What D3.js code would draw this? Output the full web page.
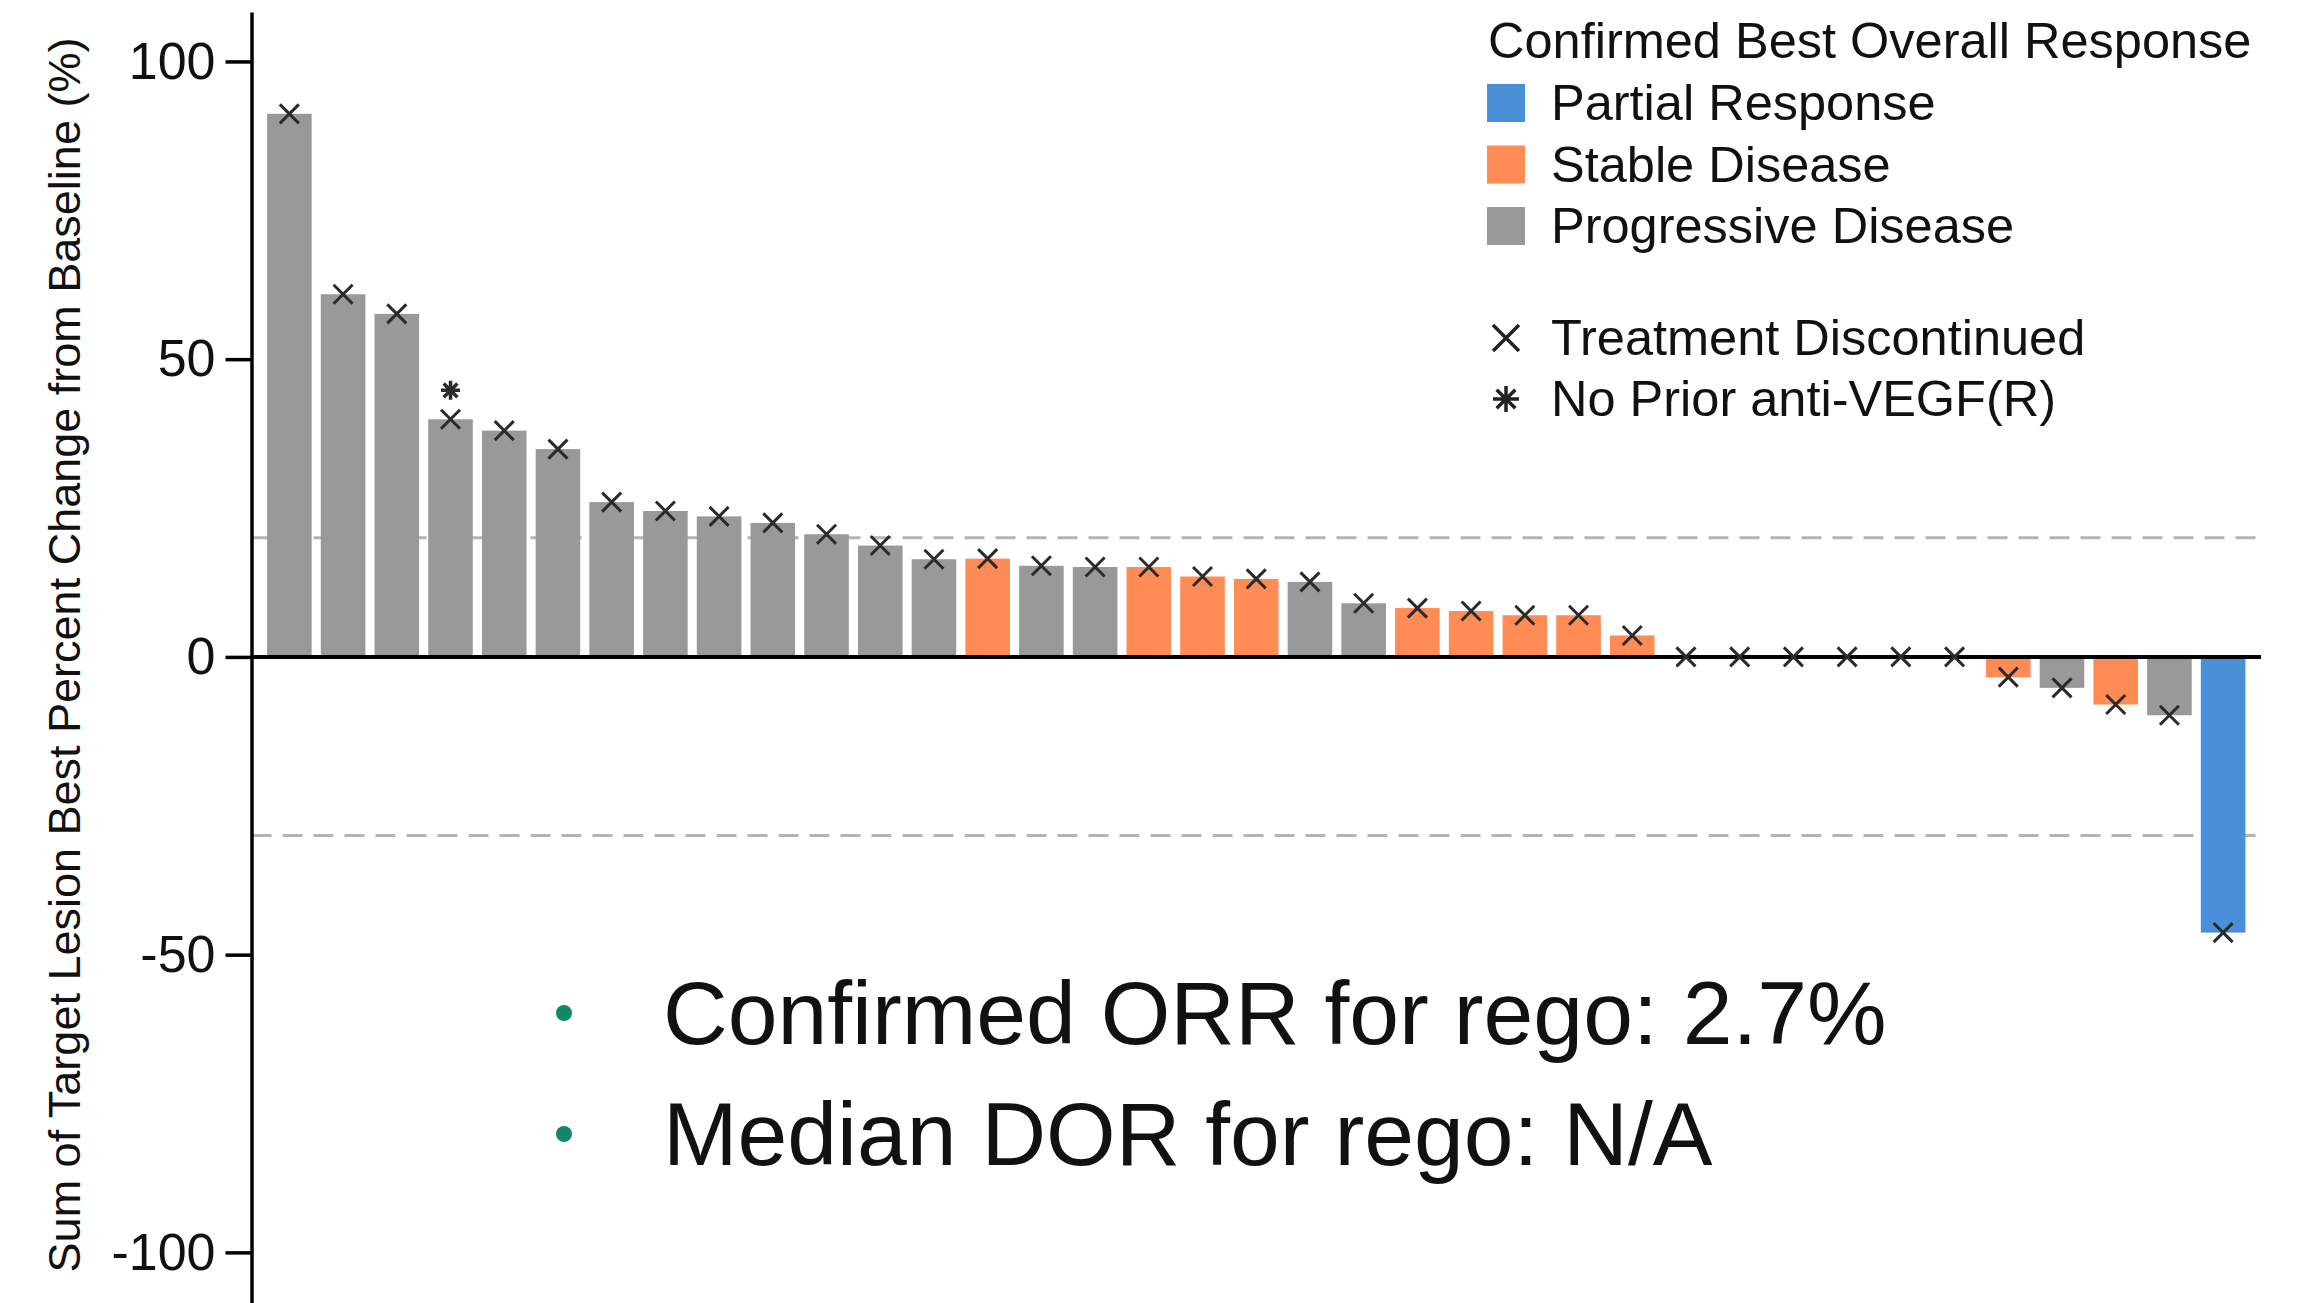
<!DOCTYPE html>
<html>
<head>
<meta charset="utf-8">
<script src="https://cdn.jsdelivr.net/npm/d3@7"></script>
<style>
  body { margin: 0; background: #fff; }
  svg { display: block; }
  text { font-family: "Liberation Sans", Arial, Helvetica, sans-serif; fill: #111; }
</style>
</head>
<body>
<svg id="chart" width="2320" height="1303"></svg>
<script>
// Waterfall of best percent change in target lesion sum, one bar per patient
const patients = ["P01","P02","P03","P04","P05","P06","P07","P08","P09","P10",
                  "P11","P12","P13","P14","P15","P16","P17","P18","P19","P20",
                  "P21","P22","P23","P24","P25","P26","P27","P28","P29","P30",
                  "P31","P32","P33","P34","P35","P36","P37"];
const bestChange = [91.2, 60.9, 57.6, 39.9, 38.0, 34.9, 26.0, 24.5, 23.6, 22.5,
                    20.6, 18.7, 16.4, 16.5, 15.3, 15.1, 15.1, 13.5, 13.1, 12.6,
                    9.0, 8.2, 7.7, 7.0, 7.0, 3.6, 0, 0, 0, 0,
                    0, 0, -3.4, -5.2, -8.0, -9.8, -46.3];
const bestResponse = ["PD","PD","PD","PD","PD","PD","PD","PD","PD","PD",
                      "PD","PD","PD","SD","PD","PD","SD","SD","SD","PD",
                      "PD","SD","SD","SD","SD","SD","SD","SD","SD","SD",
                      "SD","SD","SD","PD","SD","PD","PR"];
const discontinued = [1,1,1,1,1,1,1,1,1,1,
                      1,1,1,1,1,1,1,1,1,1,
                      1,1,1,1,1,1,1,1,1,1,
                      1,1,1,1,1,1,1];
const noPriorVEGF = [0,0,0,1,0,0,0,0,0,0,
                     0,0,0,0,0,0,0,0,0,0,
                     0,0,0,0,0,0,0,0,0,0,
                     0,0,0,0,0,0,0];

const responseKeys = ["PR","SD","PD"];
const responseLabels = ["Partial Response","Stable Disease","Progressive Disease"];
const responseColors = ["#4a90d9","#ff8b55","#999999"];
const legendTitle = "Confirmed Best Overall Response";
const markerLabels = ["Treatment Discontinued","No Prior anti-VEGF(R)"];

const yTicks = [-100, -50, 0, 50, 100];
const refLines = [20, -30];
const yLabel = "Sum of Target Lesion Best Percent Change from Baseline (%)";
const notes = ["Confirmed ORR for rego: 2.7%", "Median DOR for rego: N/A"];

const rows = patients.map((p, i) => ({
  id: p, value: bestChange[i], resp: bestResponse[i],
  disc: discontinued[i], noVegf: noPriorVEGF[i]
}));

const svg = d3.select("#chart");
const left = 251.5, right = 2261;

const x = d3.scaleBand().domain(patients).range([left, right])
  .paddingInner(0.17).paddingOuter(0.29);
const y = d3.scaleLinear().domain([-108.5, 108.3]).range([1303, 12]);
const color = d3.scaleOrdinal().domain(responseKeys).range(responseColors);

// reference thresholds (+20% progression, -30% response)
svg.append("g").selectAll("line").data(refLines).join("line")
  .attr("x1", left).attr("x2", right)
  .attr("y1", d => y(d)).attr("y2", d => y(d))
  .attr("stroke", "#b4b4b4").attr("stroke-width", 3)
  .attr("stroke-dasharray", "20 11");

// bars
svg.append("g").selectAll("rect").data(rows).join("rect")
  .attr("x", d => x(d.id))
  .attr("width", x.bandwidth())
  .attr("y", d => y(Math.max(0, d.value)))
  .attr("height", d => Math.abs(y(d.value) - y(0)))
  .attr("fill", d => color(d.resp));

// zero baseline
svg.append("line")
  .attr("x1", left).attr("x2", right)
  .attr("y1", y(0)).attr("y2", y(0))
  .attr("stroke", "#000").attr("stroke-width", 4);

// y axis (plain hyphen for negatives)
const yAxis = d3.axisLeft(y).tickValues(yTicks).tickFormat(d => String(d))
  .tickSize(26).tickSizeOuter(0).tickPadding(10);
const gy = svg.append("g").attr("transform", `translate(${left},0)`).call(yAxis);
gy.select(".domain").attr("stroke", "#000").attr("stroke-width", 3.5);
gy.selectAll(".tick line").attr("stroke", "#000").attr("stroke-width", 3.5);
gy.selectAll(".tick text").attr("font-size", 52).attr("fill", "#111")
  .attr("font-family", '"Liberation Sans", Arial, sans-serif');

svg.append("text")
  .attr("transform", `translate(80,655) rotate(-90)`)
  .attr("text-anchor", "middle")
  .attr("font-size", 45)
  .text(yLabel);

// marker shapes
function crossPath(cx, cy, h) {
  return `M${cx-h},${cy-h}L${cx+h},${cy+h}M${cx-h},${cy+h}L${cx+h},${cy-h}`;
}
function starPath(cx, cy, h) {
  const d = h * 0.72;
  return `M${cx-h},${cy}L${cx+h},${cy}M${cx},${cy-h}L${cx},${cy+h}` +
         `M${cx-d},${cy-d}L${cx+d},${cy+d}M${cx-d},${cy+d}L${cx+d},${cy-d}`;
}

// treatment discontinued markers at bar tips
svg.append("g").selectAll("path").data(rows.filter(d => d.disc)).join("path")
  .attr("d", d => crossPath(x(d.id) + x.bandwidth() / 2, y(d.value), 9.5))
  .attr("stroke", "#2b2b2b").attr("stroke-width", 3).attr("fill", "none");

// no prior anti-VEGF(R) markers above the tip
svg.append("g").selectAll("path").data(rows.filter(d => d.noVegf)).join("path")
  .attr("d", d => starPath(x(d.id) + x.bandwidth() / 2, y(d.value) - 29, 9.5))
  .attr("stroke", "#2b2b2b").attr("stroke-width", 3.5).attr("fill", "none");

// legend
const lg = svg.append("g");
lg.append("text").attr("x", 1488).attr("y", 58).attr("font-size", 50.5).text(legendTitle);
const items = lg.selectAll("g.item").data(responseKeys).join("g").attr("class", "item")
  .attr("transform", (d, i) => `translate(1487,${103 + i * 61.5})`);
items.append("rect").attr("x", 0).attr("y", -19).attr("width", 38).attr("height", 38)
  .attr("fill", d => color(d));
items.append("text").attr("x", 64).attr("y", 17).attr("font-size", 50.5)
  .text((d, i) => responseLabels[i]);

const mk = lg.selectAll("g.mk").data(markerLabels).join("g").attr("class", "mk")
  .attr("transform", (d, i) => `translate(1506,${338 + i * 61})`);
mk.append("path")
  .attr("d", (d, i) => i === 0 ? crossPath(0, 0, 13) : starPath(0, 0, 13))
  .attr("stroke", "#222").attr("stroke-width", 3.5).attr("fill", "none");
mk.append("text").attr("x", 45).attr("y", 17).attr("font-size", 50.5).text(d => d);

// summary notes
const ng = svg.append("g").selectAll("g").data(notes).join("g")
  .attr("transform", (d, i) => `translate(0,${i * 121})`);
ng.append("circle").attr("cx", 564).attr("cy", 1013).attr("r", 8).attr("fill", "#13876a");
ng.append("text").attr("x", 663).attr("y", 1044).attr("font-size", 89.5).text(d => d);
</script>
</body>
</html>
